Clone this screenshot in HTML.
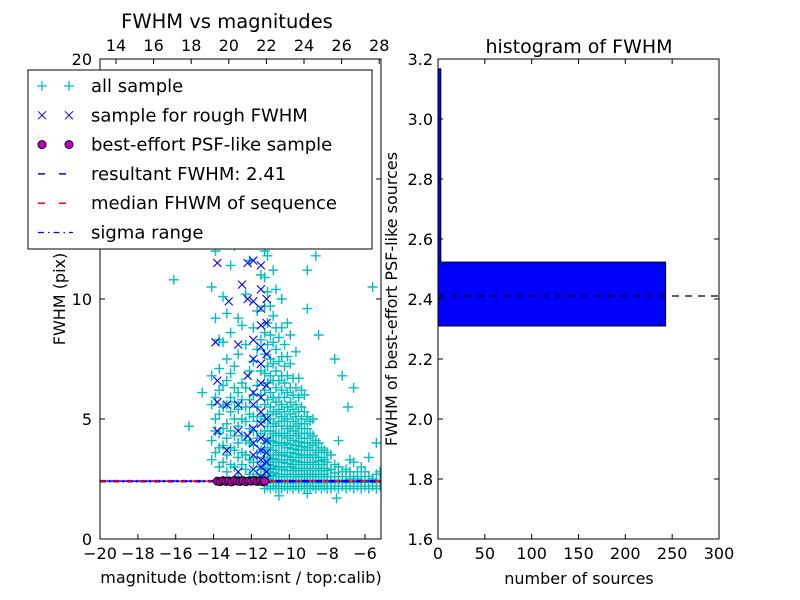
<!DOCTYPE html>
<html><head><meta charset="utf-8"><style>
body{margin:0;background:#fff;}
svg{display:block;font-family:"DejaVu Sans","Liberation Sans",sans-serif;}
</style></head><body>
<svg id="c" width="800" height="600" viewBox="0 0 800 600"></svg>
<script>
const xTicks=[-20,-18,-16,-14,-12,-10,-8,-6];
const yTicks=[0,5,10,15,20];
const yTickLabels=["0","5","10","","20"];
const topTicks=[14,16,18,20,22,24,26,28];
const allSampleColumns=[
[-16.1,[10.8]],[-15.3,[4.7]],[-14.6,[6.1]],
[-14.1,[3.3,4.1,5.6,6.8,10.5]],[-13.9,[3.6,4.5,5.0,5.9,9.2,12.0]],[-13.7,[3.0,3.8,4.4,5.2,6.2,7.1,8.3]],
[-13.5,[3.2,3.9,4.6,5.5,6.4,8.2,10.1]],[-13.3,[2.8,3.5,4.2,4.8,5.6,6.6,7.5,9.4]],[-13.1,[3.1,3.8,4.5,5.3,5.9,6.9,8.6,11.4]],
[-12.9,[3.0,3.7,4.3,5.0,5.7,6.3,7.2,12.2]],[-12.7,[2.6,3.4,4.0,4.7,5.4,6.1,7.7,9.2]],[-12.5,[3.1,3.6,4.3,5.0,5.8,6.5,8.9]],
[-12.3,[2.9,3.5,4.1,4.9,5.5,6.3,8.1,10.2]],[-12.1,[2.7,3.3,4.0,4.6,5.2,5.8,7.0,11.6]],[-11.9,[2.6,3.2,3.9,4.5,5.1,6.0,7.4,8.8]],
[-11.7,[2.7,3.4,4.2,4.9,5.5,6.4,7.9,9.5]],[-11.5,[2.6,3.0,3.7,4.4,5.1,6.0,7.0,8.3,11.0]],
[-11.3,[2.1,2.35,2.6,2.9,3.2,3.6,4.0,4.5,5.0,5.6,6.2,6.9,7.7,8.6,9.7,10.9,12.0]],
[-11.15,[2.2,2.5,2.8,3.1,3.4,3.8,4.2,4.7,5.2,5.8,6.5,7.2,8.1,9.0,10.3,11.8]],
[-11.0,[2.1,2.4,2.65,2.95,3.3,3.7,4.1,4.5,5.0,5.5,6.1,6.8,7.5,8.5,9.7]],
[-10.85,[2.2,2.45,2.75,3.05,3.35,3.7,4.05,4.4,4.8,5.3,5.9,6.6,7.3,8.2,9.3,11.2]],
[-10.7,[2.1,2.35,2.6,2.9,3.2,3.5,3.9,4.3,4.7,5.2,5.7,6.3,7.0,7.9,8.8,10.4]],
[-10.55,[2.2,2.45,2.7,3.0,3.3,3.6,4.0,4.4,4.9,5.4,5.9,6.6,7.4,8.4,1.8]],
[-10.4,[2.1,2.35,2.6,2.9,3.2,3.5,3.9,4.3,4.7,5.1,5.6,6.2,6.8,7.6,8.8,10.0]],
[-10.25,[2.2,2.45,2.7,3.0,3.3,3.6,4.0,4.4,4.9,5.3,5.9,6.5,7.2,8.1]],
[-10.1,[2.1,2.35,2.6,2.85,3.15,3.45,3.8,4.2,4.6,5.0,5.5,6.1,6.8,7.6,9.0]],
[-9.95,[2.2,2.45,2.7,3.0,3.3,3.6,3.95,4.3,4.7,5.2,5.7,6.3,7.3,8.5]],
[-9.8,[2.1,2.35,2.6,2.85,3.1,3.4,3.75,4.1,4.5,4.9,5.4,6.0,6.7]],
[-9.65,[2.2,2.45,2.7,2.95,3.25,3.55,3.9,4.3,4.7,5.1,5.6,6.3,7.8]],
[-9.5,[2.1,2.35,2.6,2.85,3.1,3.4,3.7,4.05,4.4,4.8,5.3,5.9,6.7]],
[-9.35,[2.2,2.45,2.7,2.95,3.2,3.5,3.85,4.2,4.6,5.0,5.5,6.2]],
[-9.2,[2.1,2.35,2.6,2.85,3.1,3.4,3.7,4.0,4.4,4.8,5.3,6.0]],
[-9.05,[2.2,2.45,2.7,2.95,3.2,3.5,3.8,4.2,4.6,5.1,9.6,11.2,1.9]],
[-8.9,[2.1,2.35,2.6,2.85,3.1,3.4,3.7,4.0,4.4,4.9]],
[-8.75,[2.2,2.45,2.7,2.95,3.2,3.5,3.9,4.3,5.0]],
[-8.6,[2.1,2.35,2.6,2.85,3.1,3.4,3.7,4.1,11.8]],
[-8.45,[2.2,2.45,2.7,2.95,3.25,3.6,4.0,8.5]],
[-8.3,[2.1,2.35,2.6,2.85,3.1,3.4,3.8]],
[-8.15,[2.2,2.45,2.7,2.95,3.3,3.7]],
[-8.0,[2.1,2.35,2.6,2.85,3.2,3.6]],
[-7.8,[2.1,2.35,2.6,2.9,3.5]],[-7.6,[2.2,2.45,2.75,3.1,7.5]],[-7.4,[2.1,2.35,2.6,3.0,4.1]],[-7.2,[2.2,2.45,2.8,6.8]],
[-7.0,[2.1,2.35,2.6,2.9]],[-6.8,[2.2,2.5,2.8,3.3]],[-6.6,[2.1,2.35,2.6,3.2,6.3]],[-6.4,[2.2,2.5,2.8]],
[-6.2,[2.1,2.35,2.6,3.0]],[-6.0,[2.2,2.45,2.8]],[-5.8,[2.1,2.35,2.6,3.4]],[-5.6,[2.2,2.5,10.5]],
[-5.4,[2.1,2.35,2.7,4.0]],[-5.2,[2.2,2.45,2.8]],[-6.9,[5.5]],[-7.5,[1.7]]
];
const roughColumns=[
[-11.5,[2.6,3.0,3.3,3.7,4.2,4.8,5.3,5.9,6.5,7.3,8.0,8.9,9.6,10.4,11.4]],
[-11.9,[2.9,3.5,4.0,4.6,5.6,6.1,7.5,8.3,9.9,11.6]],
[-11.2,[2.5,2.8,3.2,3.6,4.1,5.0,6.4,7.7,9.0,10.0]],
[-12.2,[4.3,6.8,10.0,11.5]],[-12.7,[2.8,4.5,5.6,8.1]],[-13.3,[3.7,5.6]],
[-13.8,[4.5,5.7,6.6,11.5]],[-13.2,[9.9]],[-12.5,[10.6]],[-13.9,[8.2]]
];
const bestMag=[-13.8,-13.65,-13.5,-13.35,-13.2,-13.05,-12.9,-12.75,-12.6,-12.45,-12.3,-12.15,-12.0,-11.85,-11.7,-11.55,-11.4,-11.3];
const bestFwhm=[2.41,2.39,2.43,2.40,2.42,2.38,2.44,2.41,2.40,2.43,2.39,2.42,2.41,2.44,2.40,2.42,2.39,2.41];
const resultFwhm=2.41, medianFwhm=2.41, sigmaRange=[2.38,2.44];
const binEdges=[2.31,2.523,3.167];
const binCounts=[243,3];
const histXTicks=[0,50,100,150,200,250,300];
const histYTicks=[1.6,1.8,2.0,2.2,2.4,2.6,2.8,3.0,3.2];

const NS="http://www.w3.org/2000/svg", svg=document.getElementById('c');
function el(tag,a,parent){const e=document.createElementNS(NS,tag);for(const k in a)e.setAttribute(k,a[k]);(parent||svg).appendChild(e);return e;}
function tx(x,y,s,size,anchor,parent){const t=el('text',{x:x,y:y,'font-size':size,'text-anchor':anchor||'middle',fill:'#000'},parent);t.textContent=s;return t;}
const L={x0:100,x1:381,y0:59,y1:539};
const sx=m=>100+(m+20)*18.93, sy=f=>539-f*24, stop=t=>116+(t-14)*18.8;
const R={x0:438,x1:719,y0:59,y1:539};
const hx=c=>438+c*281/300, hy=f=>539-(f-1.6)*300;

const gL=el('g',{});

const clip=el('clipPath',{id:'cl'},gL);el('rect',{x:L.x0,y:L.y0,width:L.x1-L.x0,height:L.y1-L.y0},clip);
const pts=el('g',{'clip-path':'url(#cl)'},gL);

function plus(x,y,c,g){el('path',{d:`M${x-5},${y}h10M${x},${y-5}v10`,stroke:c,'stroke-width':1.3},g);}
allSampleColumns.forEach(([m,fs])=>fs.forEach(f=>{
  const p=el('path',{d:`M${sx(m)-5},${sy(f)}h10M${sx(m)},${sy(f)-5}v10`,stroke:'#00bfbf','stroke-width':1.4},pts);
  
}));
roughColumns.forEach(([m,fs])=>fs.forEach(f=>{
  const x=sx(m),y=sy(f);
  const p=el('path',{d:`M${x-4},${y-4}l8,8M${x-4},${y+4}l8,-8`,stroke:'#0000ff','stroke-width':1.1},pts);
  
}));
const ln1=el('line',{x1:L.x0,x2:L.x1,y1:sy(sigmaRange[0]),y2:sy(sigmaRange[0]),stroke:'#0000ff','stroke-width':1.2,'stroke-dasharray':'6 3 1.5 3'},pts);

const ln2=el('line',{x1:L.x0,x2:L.x1,y1:sy(sigmaRange[1]),y2:sy(sigmaRange[1]),stroke:'#0000ff','stroke-width':1.2,'stroke-dasharray':'6 3 1.5 3'},pts);

const ln3=el('line',{x1:L.x0,x2:L.x1,y1:sy(medianFwhm),y2:sy(medianFwhm),stroke:'#ff0000','stroke-width':1.5,'stroke-dasharray':'7 6'},pts);

const ln4=el('line',{x1:L.x0,x2:L.x1,y1:sy(resultFwhm),y2:sy(resultFwhm),stroke:'#0000ff','stroke-width':1.5,'stroke-dasharray':'7 6','stroke-dashoffset':6},pts);

bestMag.forEach((m,i)=>{
  const c=el('circle',{cx:sx(m),cy:sy(bestFwhm[i]),r:4,fill:'#bf00bf',stroke:'#000','stroke-width':1},pts);
  
});
el('rect',{x:L.x0,y:L.y0,width:L.x1-L.x0,height:L.y1-L.y0,fill:'none',stroke:'#000','stroke-width':1},gL);
xTicks.forEach(v=>{const x=sx(v);el('path',{d:`M${x},${L.y1}v-5`,stroke:'#000'},gL);
  const t=tx(x,L.y1+20,'\u2212'+Math.abs(v),16,'middle',gL);});
topTicks.forEach(v=>{const x=stop(v);el('path',{d:`M${x},${L.y0}v5`,stroke:'#000'},gL);
  const t=tx(x,L.y0-8,String(v),16,'middle',gL);});
yTicks.forEach((v,i)=>{const y=sy(v);el('path',{d:`M${L.x0},${y}h5M${L.x1},${y}h-5`,stroke:'#000'},gL);
  if(yTickLabels[i]){const t=tx(L.x0-8,y+6,yTickLabels[i],16,'end',gL);}});
let t=tx(227,28,'FWHM vs magnitudes',19.5,'middle',gL);
t=tx(241,583,'magnitude (bottom:isnt / top:calib)',16,'middle',gL);
t=tx(0,0,'FWHM (pix)',16,'middle',gL);t.setAttribute('transform','translate(65,299) rotate(-90)');
const lg=el('g',{},gL);
el('rect',{x:28,y:70,width:344,height:179,fill:'#fff',stroke:'#000','stroke-width':1},lg);
const labs=['all sample','sample for rough FWHM','best-effort PSF-like sample','resultant FWHM: 2.41','median FHWM of sequence','sigma range'];
labs.forEach((s,i)=>{const y=86+i*29.3;
  if(i==0){plus(42,y,'#00bfbf',lg);plus(69,y,'#00bfbf',lg);}
  if(i==1){[42,69].forEach(x=>el('path',{d:`M${x-4},${y-4}l8,8M${x-4},${y+4}l8,-8`,stroke:'#0000ff'},lg));}
  if(i==2){[42,69].forEach(x=>el('circle',{cx:x,cy:y,r:4,fill:'#bf00bf',stroke:'#000'},lg));}
  if(i==3)el('line',{x1:38,x2:73,y1:y,y2:y,stroke:'#0000ff','stroke-width':1.5,'stroke-dasharray':'7 14'},lg);
  if(i==4)el('line',{x1:38,x2:73,y1:y,y2:y,stroke:'#ff0000','stroke-width':1.5,'stroke-dasharray':'7 14'},lg);
  if(i==5)el('line',{x1:38,x2:73,y1:y,y2:y,stroke:'#0000ff','stroke-width':1.2,'stroke-dasharray':'6 4 1.5 4'},lg);
  const e=tx(91,y+6,s,18,'start',lg);
});
const gR=el('g',{});
binCounts.forEach((c,i)=>{const y0=hy(binEdges[i+1]),y1=hy(binEdges[i]);
  const r=el('rect',{x:hx(0),y:y0,width:hx(c)-hx(0),height:y1-y0,fill:'#0000ff',stroke:'#000','stroke-width':1},gR);
  });
const hl=el('line',{x1:R.x0,x2:R.x1,y1:hy(resultFwhm),y2:hy(resultFwhm),stroke:'#000','stroke-width':1.2,'stroke-dasharray':'7 6'},gR);

el('rect',{x:R.x0,y:R.y0,width:R.x1-R.x0,height:R.y1-R.y0,fill:'none',stroke:'#000','stroke-width':1},gR);
histXTicks.forEach(v=>{const x=hx(v);el('path',{d:`M${x},${R.y1}v-5M${x},${R.y0}v5`,stroke:'#000'},gR);
  const e=tx(x,R.y1+20,String(v),16,'middle',gR);});
histYTicks.forEach(v=>{const y=hy(v);el('path',{d:`M${R.x0},${y}h5M${R.x1},${y}h-5`,stroke:'#000'},gR);
  const e=tx(R.x0-5,y+6,v.toFixed(1),16,'end',gR);});
t=tx(579,53,'histogram of FWHM',19,'middle',gR);
t=tx(579,584,'number of sources',16,'middle',gR);
t=tx(0,0,'FWHM of best-effort PSF-like sources',16,'middle',gR);t.setAttribute('transform','translate(397,299) rotate(-90)');
</script>
</body></html>
